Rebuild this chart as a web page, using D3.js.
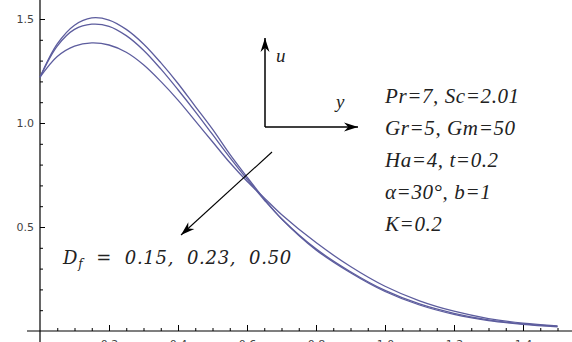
<!DOCTYPE html>
<html>
<head>
<meta charset="utf-8">
<script src="https://cdn.jsdelivr.net/npm/d3@7"></script>
<style>
  body { margin: 0; background: #fff; }
  svg { display: block; }
  .tick text { font-family: "DejaVu Sans", sans-serif; font-size: 11px; fill: #444; }
</style>
</head>
<body>
<div id="chart"></div>
<script>
// y positions (distance) where the profiles were read
var ys = [0, 0.05, 0.1, 0.15, 0.2, 0.25, 0.3, 0.35, 0.4, 0.45, 0.5, 0.55, 0.6, 0.65, 0.7, 0.8, 0.9, 1.0, 1.1, 1.2, 1.3, 1.4, 1.5];

// velocity u for Df = 0.15, 0.23, 0.50
var uDf015 = [1.22, 1.38, 1.47, 1.505, 1.495, 1.45, 1.38, 1.29, 1.19, 1.08, 0.97, 0.85, 0.74, 0.635, 0.54, 0.39, 0.28, 0.19, 0.125, 0.08, 0.05, 0.032, 0.02];
var uDf023 = [1.22, 1.37, 1.45, 1.475, 1.465, 1.42, 1.35, 1.26, 1.16, 1.055, 0.945, 0.835, 0.73, 0.63, 0.54, 0.395, 0.285, 0.195, 0.13, 0.085, 0.053, 0.034, 0.022];
var uDf050 = [1.22, 1.32, 1.37, 1.385, 1.375, 1.34, 1.28, 1.20, 1.11, 1.01, 0.91, 0.81, 0.72, 0.64, 0.56, 0.425, 0.31, 0.215, 0.145, 0.095, 0.06, 0.038, 0.025];

var xMajor = [0.2, 0.4, 0.6, 0.8, 1.0, 1.2, 1.4];
var yMajor = [0.5, 1.0, 1.5];

var params = ["Pr=7, Sc=2.01", "Gr=5, Gm=50", "Ha=4, t=0.2", "α=30°, b=1", "K=0.2"];

var width = 572, height = 342;
var serif = "'Liberation Serif', 'Times New Roman', Times, serif";

var svg = d3.select("#chart").append("svg")
    .attr("width", width)
    .attr("height", height);

var x = d3.scaleLinear().domain([0, 1.5]).range([40, 557.5]);
var y = d3.scaleLinear().domain([0, 1.5]).range([331, 19]);

// axes lines
svg.append("line")
    .attr("x1", 27).attr("x2", width)
    .attr("y1", y(0)).attr("y2", y(0))
    .attr("stroke", "#000").attr("stroke-width", 1.2);
svg.append("line")
    .attr("x1", x(0)).attr("x2", x(0))
    .attr("y1", 0).attr("y2", height)
    .attr("stroke", "#000").attr("stroke-width", 1.2);

// x ticks
var xMinor = d3.range(1, 31).map(function(i) { return i * 0.05; })
    .filter(function(v) { return Math.abs(v * 5 - Math.round(v * 5)) > 1e-6; });

svg.append("g")
    .attr("transform", "translate(0," + y(0) + ")")
    .call(d3.axisBottom(x).tickValues(xMinor).tickSize(-3).tickFormat(""))
    .call(function(g) { g.select(".domain").remove(); });

svg.append("g")
    .attr("transform", "translate(0," + y(0) + ")")
    .call(d3.axisBottom(x).tickValues(xMajor).tickSize(-6).tickPadding(9).tickFormat(d3.format(".1f")))
    .call(function(g) { g.select(".domain").remove(); });

// y ticks
var yMinor = d3.range(1, 16).map(function(i) { return i * 0.1; })
    .filter(function(v) { return Math.abs(v * 2 - Math.round(v * 2)) > 1e-6; });

svg.append("g")
    .attr("transform", "translate(" + x(0) + ",0)")
    .call(d3.axisLeft(y).tickValues(yMinor).tickSize(-3).tickFormat(""))
    .call(function(g) { g.select(".domain").remove(); });

svg.append("g")
    .attr("transform", "translate(" + x(0) + ",0)")
    .call(d3.axisLeft(y).tickValues(yMajor).tickSize(-5).tickPadding(6).tickFormat(d3.format(".1f")))
    .call(function(g) { g.select(".domain").remove(); });

svg.selectAll(".tick line").attr("stroke", "#000");

// curves
var line = d3.line()
    .x(function(d) { return x(d[0]); })
    .y(function(d) { return y(d[1]); })
    .curve(d3.curveCatmullRom);

[uDf015, uDf023, uDf050].forEach(function(s) {
    svg.append("path")
        .datum(ys.map(function(v, i) { return [v, s[i]]; }))
        .attr("d", line)
        .attr("fill", "none")
        .attr("stroke", "#5d5d9e")
        .attr("stroke-width", 1.3);
});

// arrows
function arrowHead(x1, y1, x2, y2, len, wid) {
    var a = Math.atan2(y2 - y1, x2 - x1);
    var bx = x2 - len * Math.cos(a), by = y2 - len * Math.sin(a);
    var nx = -Math.sin(a) * wid / 2, ny = Math.cos(a) * wid / 2;
    var mx = x2 - len * 0.7 * Math.cos(a), my = y2 - len * 0.7 * Math.sin(a);
    svg.append("path")
        .attr("d", "M" + x2 + "," + y2 + "L" + (bx + nx) + "," + (by + ny) +
            "L" + mx + "," + my + "L" + (bx - nx) + "," + (by - ny) + "Z")
        .attr("fill", "#000");
}

function arrow(x1, y1, x2, y2, sw) {
    svg.append("line")
        .attr("x1", x1).attr("y1", y1).attr("x2", x2).attr("y2", y2)
        .attr("stroke", "#000").attr("stroke-width", sw);
    arrowHead(x1, y1, x2, y2, 14, 9);
}

arrow(265, 127, 265, 38, 1.5);
arrow(265, 127, 358, 127, 1.5);
arrow(272, 152, 181, 235, 1.1);

function note(tx, ty, str, size) {
    return svg.append("text")
        .attr("x", tx).attr("y", ty)
        .attr("font-family", serif)
        .attr("font-style", "italic")
        .attr("font-size", size)
        .attr("fill", "#222")
        .text(str);
}

note(276, 62, "u", 19);
note(336, 108, "y", 19);

svg.selectAll(".param")
    .data(params)
    .enter().append("text")
    .attr("class", "param")
    .attr("x", 385)
    .attr("y", function(d, i) { return 103 + i * 32; })
    .attr("font-family", serif)
    .attr("font-style", "italic")
    .attr("font-size", 21)
    .attr("letter-spacing", 0.6)
    .attr("fill", "#222")
    .text(function(d) { return d; });

var df = note(63, 264, null, 20).attr("font-family", "'DejaVu Serif', serif").attr("font-size", 18).attr("letter-spacing", 0.7);
df.append("tspan").text("D");
df.append("tspan").attr("font-size", "12px").attr("dy", 4).text("f");
df.append("tspan").attr("dy", -4).attr("xml:space", "preserve").text("  =  0.15,  0.23,  0.50");
</script>
</body>
</html>
